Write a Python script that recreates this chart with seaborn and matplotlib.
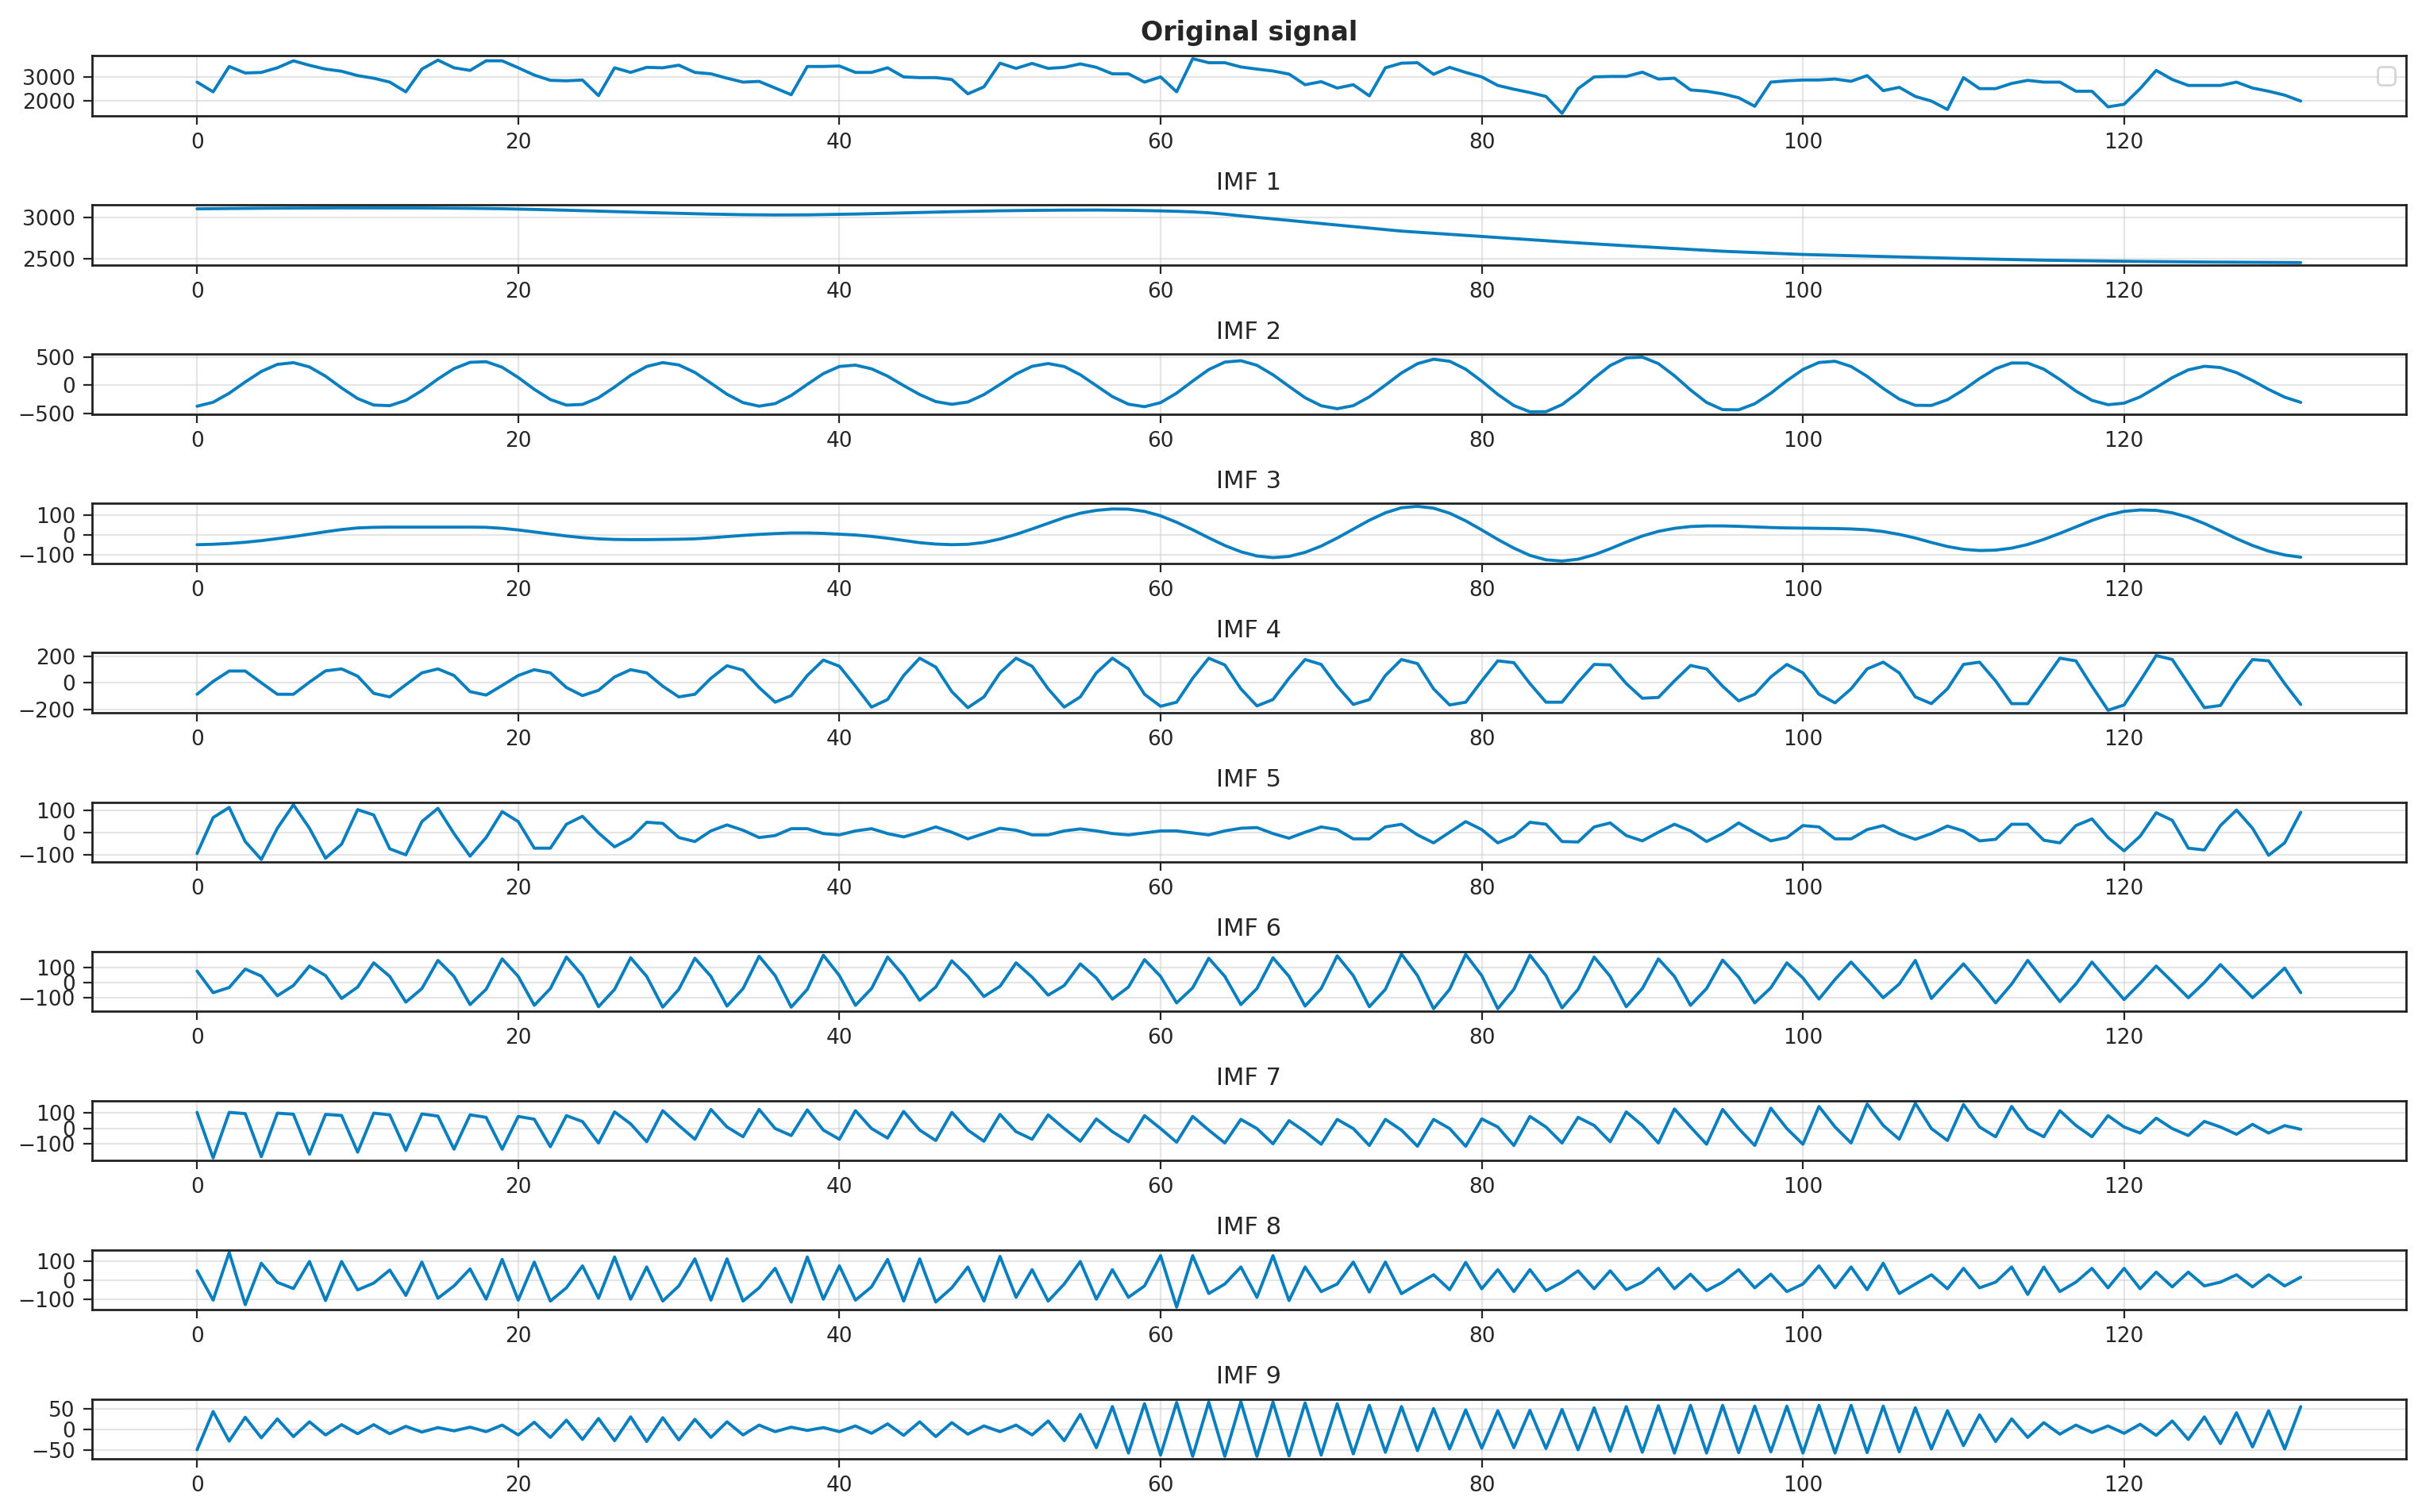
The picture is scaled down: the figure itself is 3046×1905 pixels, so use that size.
import numpy as np
import pandas as pd
import matplotlib
matplotlib.use("Agg")
import matplotlib.pyplot as plt
import seaborn as sns

# sample index 0..131
n_points = 132

original = [
    2780, 2370, 3440, 3165, 3190, 3385, 3680, 3490, 3330, 3240,
    3055, 2945, 2780, 2370, 3330, 3710, 3385, 3275, 3680, 3680,
    3385, 3077, 2857, 2835, 2868, 2210, 3385, 3190, 3405, 3385,
    3495, 3190, 3130, 2945, 2780, 2810, 2530, 2250, 3440, 3440,
    3460, 3190, 3190, 3385, 3000, 2970, 2970, 2890, 2285, 2580,
    3580, 3360, 3570, 3360, 3405, 3550, 3405, 3130, 3130, 2780,
    3000, 2370, 3770, 3600, 3600, 3420, 3330, 3250, 3120, 2670,
    2800, 2530, 2670, 2200, 3385, 3580, 3600, 3110, 3405, 3190,
    3000, 2640, 2480, 2340, 2175, 1460, 2505, 3000, 3020, 3020,
    3200, 2910, 2945, 2450, 2395, 2285, 2120, 1760, 2780, 2835,
    2870, 2870, 2910, 2815, 3055, 2420, 2560, 2175, 1980, 1625,
    2970, 2505, 2505, 2725, 2855, 2780, 2780, 2395, 2395, 1735,
    1845, 2505, 3275, 2890, 2640, 2640, 2640, 2780, 2530, 2395,
    2230, 1980]

imf1 = [
    3100, 3102, 3104, 3106, 3107, 3108, 3109, 3110, 3110, 3111,
    3111, 3111, 3111, 3110, 3110, 3109, 3108, 3106, 3104, 3101,
    3097, 3093, 3088, 3083, 3077, 3072, 3066, 3060, 3055, 3050,
    3045, 3040, 3036, 3032, 3029, 3027, 3026, 3026, 3027, 3030,
    3033, 3037, 3041, 3046, 3051, 3056, 3061, 3065, 3069, 3073,
    3076, 3079, 3081, 3083, 3084, 3085, 3085, 3084, 3082, 3079,
    3075, 3070, 3063, 3052, 3035, 3015, 2997, 2978, 2960, 2941,
    2922, 2904, 2886, 2867, 2849, 2831, 2818, 2805, 2792, 2779,
    2766, 2753, 2740, 2727, 2713, 2700, 2689, 2677, 2666, 2654,
    2643, 2632, 2621, 2610, 2599, 2588, 2580, 2572, 2564, 2557,
    2549, 2544, 2539, 2533, 2528, 2523, 2519, 2514, 2509, 2505,
    2500, 2496, 2492, 2488, 2484, 2480, 2478, 2475, 2472, 2469,
    2467, 2465, 2463, 2461, 2460, 2458, 2457, 2456, 2455, 2454,
    2452, 2451]

imf2 = [
    -375, -304, -143, 59, 246, 373, 404, 327, 162, -48,
    -238, -354, -365, -271, -96, 112, 297, 410, 421, 322,
    139, -73, -255, -355, -343, -223, -32, 177, 336, 405,
    363, 229, 37, -161, -311, -374, -328, -183, 16, 208,
    336, 360, 294, 163, -6, -166, -292, -341, -299, -167,
    14, 201, 339, 388, 335, 188, -7, -203, -339, -383,
    -311, -141, 75, 280, 414, 439, 357, 187, -20, -223,
    -366, -420, -365, -208, 2, 219, 386, 465, 429, 287,
    72, -164, -363, -475, -473, -346, -128, 127, 353, 490,
    503, 387, 170, -84, -307, -436, -439, -331, -143, 81,
    281, 407, 429, 336, 159, -57, -247, -359, -361, -259,
    -83, 120, 296, 398, 397, 288, 103, -104, -270, -348,
    -320, -208, -41, 136, 275, 339, 317, 226, 84, -74,
    -213, -306]

imf3 = [
    -48, -46, -42, -36, -28, -18, -8, 4, 16, 27,
    35, 38, 39, 39, 39, 39, 39, 39, 38, 33,
    25, 15, 5, -5, -13, -19, -22, -23, -23, -22,
    -21, -19, -14, -8, -2, 3, 7, 10, 10, 8,
    4, 0, -7, -16, -27, -38, -45, -48, -46, -37,
    -20, 3, 30, 58, 86, 108, 122, 129, 128, 117,
    95, 63, 26, -14, -52, -83, -104, -112, -106, -86,
    -55, -15, 29, 73, 110, 135, 142, 133, 108, 70,
    25, -22, -65, -101, -123, -129, -120, -98, -68, -35,
    -5, 18, 33, 42, 45, 45, 43, 40, 37, 35,
    34, 33, 32, 30, 26, 17, 3, -15, -37, -57,
    -71, -77, -75, -65, -47, -22, 8, 40, 72, 99,
    117, 124, 122, 110, 88, 57, 20, -18, -52, -80,
    -99, -110]

imf4 = [
    -87, 10, 89, 89, 0, -87, -87, 5, 90, 105,
    50, -80, -107, -15, 75, 105, 55, -67, -93, -20,
    55, 99, 75, -36, -97, -57, 44, 99, 75, -26,
    -107, -87, 34, 129, 95, -36, -147, -97, 55, 172,
    125, -26, -184, -127, 55, 186, 119, -67, -188, -107,
    75, 186, 125, -46, -184, -107, 75, 186, 105, -87,
    -178, -147, 34, 186, 135, -46, -175, -127, 35, 176,
    139, -26, -164, -127, 55, 176, 145, -46, -168, -147,
    14, 166, 152, -6, -147, -147, 4, 139, 135, -6,
    -117, -111, 14, 131, 105, -26, -137, -87, 44, 139,
    75, -87, -152, -46, 105, 156, 75, -107, -158, -46,
    139, 156, 14, -158, -158, 14, 186, 166, -26, -208,
    -168, 14, 206, 176, -6, -188, -172, 14, 176, 166,
    -6, -164]

imf5 = [
    -94, 68, 114, -40, -121, 20, 126, 20, -115, -52,
    104, 80, -73, -100, 50, 110, -4, -106, -22, 95,
    50, -70, -70, 38, 74, -1, -64, -25, 47, 42,
    -22, -40, 8, 35, 11, -22, -13, 18, 18, -4,
    -10, 8, 18, -4, -19, 2, 26, 2, -28, -4,
    20, 11, -10, -10, 8, 17, 8, -4, -10, -1,
    8, 8, -1, -10, 8, 20, 23, -4, -25, 2,
    26, 14, -28, -28, 26, 38, -10, -46, 2, 50,
    14, -46, -16, 47, 38, -40, -42, 26, 44, -13,
    -37, 2, 38, 8, -40, -4, 44, 2, -37, -22,
    32, 26, -28, -28, 14, 32, -4, -30, -4, 30,
    8, -37, -30, 38, 38, -34, -46, 32, 62, -22,
    -82, -16, 90, 56, -70, -78, 32, 102, 20, -102,
    -46, 92]

imf6 = [
    75, -67, -33, 88, 42, -87, -20, 108, 45, -105,
    -30, 129, 40, -129, -40, 145, 40, -145, -45, 155,
    40, -150, -40, 167, 45, -159, -45, 162, 40, -162,
    -45, 159, 40, -155, -40, 172, 45, -162, -45, 179,
    45, -150, -40, 167, 45, -117, -30, 142, 40, -92,
    -25, 129, 35, -83, -20, 122, 30, -109, -30, 150,
    40, -134, -35, 159, 40, -145, -40, 162, 40, -155,
    -40, 175, 45, -159, -45, 187, 45, -172, -45, 184,
    45, -172, -45, 179, 45, -167, -45, 167, 40, -159,
    -40, 155, 40, -150, -40, 147, 35, -134, -35, 129,
    30, -109, 20, 134, 20, -100, -10, 145, -105, 10,
    122, 0, -134, -10, 145, 10, -125, -10, 134, 10,
    -112, -5, 108, 5, -100, 0, 117, 10, -100, -5,
    95, -67]

imf7 = [
    104, -189, 104, 96, -181, 99, 92, -165, 91, 84,
    -152, 99, 88, -141, 94, 80, -133, 88, 72, -133,
    78, 60, -117, 83, 45, -93, 107, 30, -85, 115,
    20, -69, 123, 10, -53, 123, 0, -45, 120, -10,
    -69, 115, 0, -61, 110, -10, -77, 104, -10, -82,
    91, -20, -69, 88, 0, -82, 62, -20, -85, 83,
    0, -88, 78, -10, -93, 59, 0, -98, 51, -20,
    -101, 59, 0, -109, 59, -10, -114, 59, 0, -114,
    62, 10, -109, 78, 10, -93, 72, 20, -85, 107,
    20, -93, 126, 10, -101, 123, 0, -109, 131, 0,
    -101, 142, 10, -93, 158, 20, -69, 163, 0, -77,
    155, 10, -53, 142, 0, -53, 115, 20, -53, 83,
    10, -29, 67, 0, -45, 46, 10, -37, 27, -29,
    19, -5]

imf8 = [
    50, -105, 147, -129, 90, -11, -44, 99, -107, 99,
    -51, -15, 54, -80, 96, -95, -30, 60, -100, 110,
    -105, 96, -110, -40, 76, -95, 123, -100, 70, -110,
    -30, 113, -105, 113, -110, -40, 63, -115, 123, -100,
    76, -105, -35, 110, -110, 113, -115, -40, 70, -110,
    126, -90, 56, -110, -20, 99, -100, 56, -90, -30,
    130, -142, 130, -70, -20, 70, -90, 130, -107, 70,
    -60, -20, 96, -62, 96, -71, -20, 29, -50, 94,
    -45, 56, -60, 56, -55, -10, 50, -45, 50, -50,
    -10, 63, -45, 32, -55, -10, 56, -40, 32, -60,
    -20, 76, -40, 70, -50, 90, -70, -20, 29, -45,
    63, -40, -10, 70, -75, 70, -60, -10, 63, -40,
    63, -45, 43, -35, 43, -30, -10, 29, -35, 29,
    -30, 16]

imf9 = [
    -50, 43, -29, 29, -21, 25, -18, 18, -14, 11,
    -11, 11, -11, 7, -7, 4, -4, 5, -6, 10,
    -14, 17, -20, 22, -25, 26, -28, 30, -30, 28,
    -26, 24, -20, 18, -14, 10, -6, 5, -3, 4,
    -6, 8, -10, 13, -15, 18, -18, 16, -12, 8,
    -6, 10, -14, 20, -28, 36, -45, 55, -58, 62,
    -63, 65, -66, 66, -66, 67, -66, 66, -65, 64,
    -63, 62, -60, 58, -56, 55, -52, 50, -48, 47,
    -46, 45, -45, 46, -47, 48, -50, 52, -53, 55,
    -56, 57, -58, 58, -58, 58, -57, 56, -55, 56,
    -58, 58, -58, 58, -57, 56, -55, 52, -48, 45,
    -40, 35, -30, 25, -20, 16, -12, 10, -8, 8,
    -10, 12, -15, 20, -25, 30, -35, 40, -43, 45,
    -48, 55]

titles = ["Original signal"] + [f"IMF {k}" for k in range(1, 10)]
series = [original, imf1, imf2, imf3, imf4, imf5, imf6, imf7, imf8, imf9]
yticks = [[2000, 3000], [2500, 3000], [-500, 0, 500], [-100, 0, 100],
          [-200, 0, 200], [-100, 0, 100], [-100, 0, 100], [-100, 0, 100],
          [-100, 0, 100], [-50, 0, 50]]
xticks = [0, 20, 40, 60, 80, 100, 120]

sns.set_style("ticks")
plt.rcParams['font.family'] = ['DejaVu Sans']

line_color = "#0a7fc0"

fig, axes = plt.subplots(10, 1, figsize=(15.23, 9.525), dpi=200)
fig.subplots_adjust(left=0.038, right=0.995, top=0.963, bottom=0.035, hspace=1.48)

x = np.arange(n_points)
for i, ax in enumerate(axes):
    df = pd.DataFrame({"t": x, "v": series[i]})
    sns.lineplot(data=df, x="t", y="v", ax=ax, color=line_color, linewidth=1.4)
    if i == 0:
        ax.set_title(titles[i], fontsize=12, fontweight="bold", pad=7)
        ax.legend(handles=[], loc="upper right")
    else:
        ax.set_title(titles[i], fontsize=11, pad=7)
    ax.set_xlabel("")
    ax.set_ylabel("")
    ax.set_xticks(xticks)
    ax.set_yticks(yticks[i])
    ax.tick_params(labelsize=9.5, length=4, width=0.8)
    ax.grid(True, color="#cccccc", alpha=0.5, linewidth=0.8)
    for s in ax.spines.values():
        s.set_color("#222222")
        s.set_linewidth(1.0)

fig.savefig("out.png", dpi=200)
